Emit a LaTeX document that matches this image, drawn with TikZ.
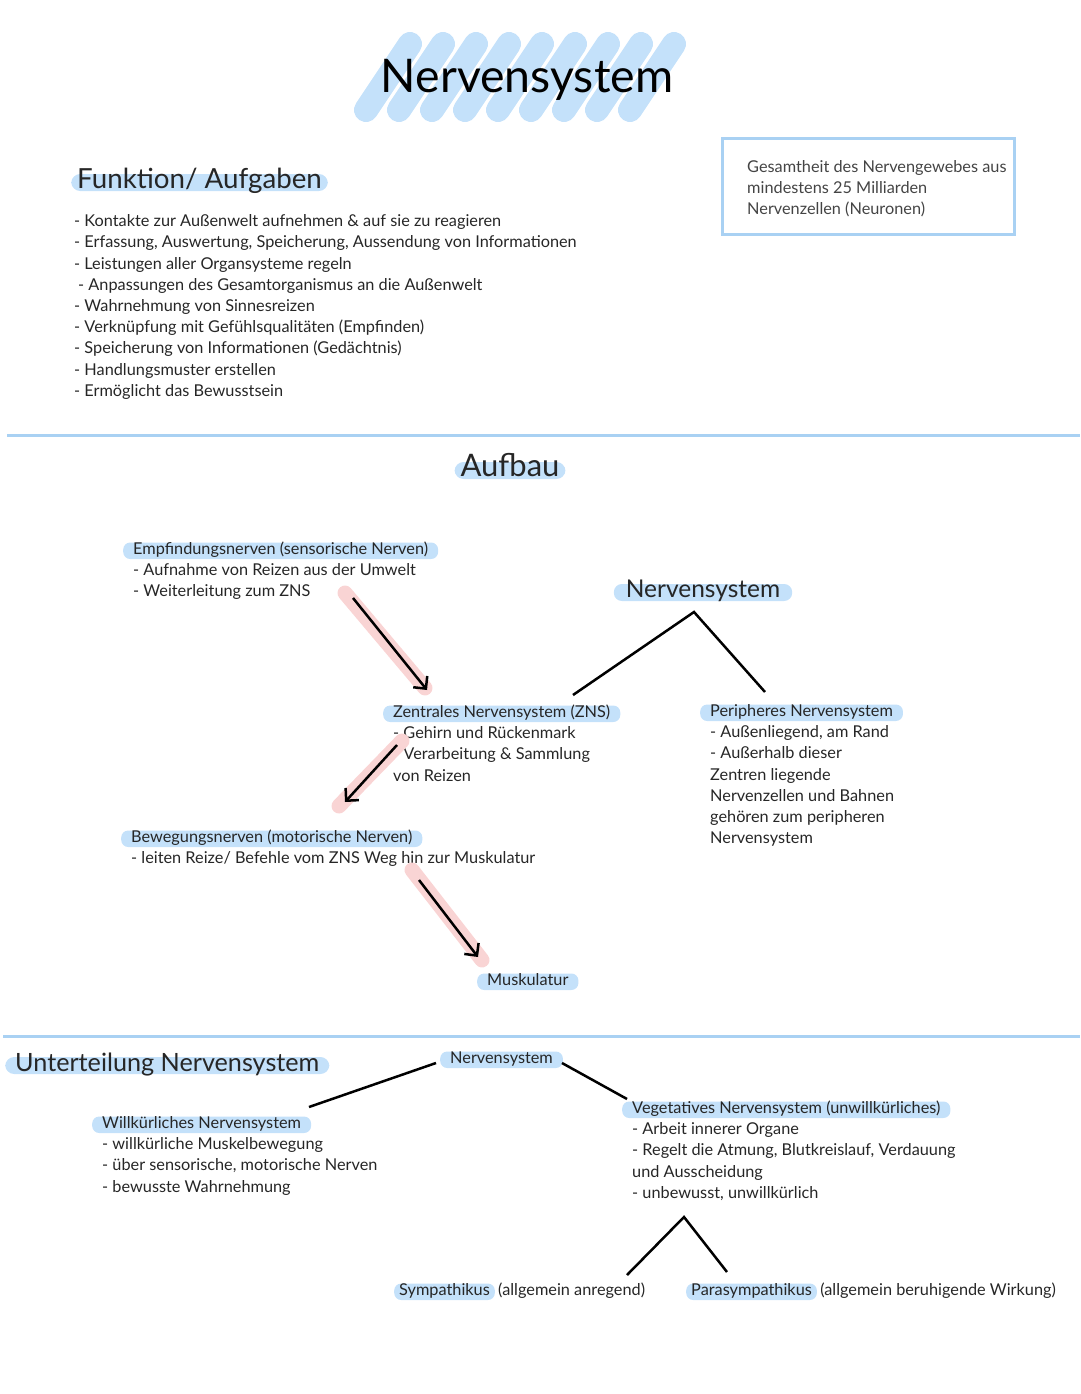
\documentclass[tikz,border=0pt]{standalone}
\usepackage{fontspec}
\setmainfont{Lato}
\usetikzlibrary{arrows.meta,positioning}

\definecolor{hlblue}{HTML}{C4E1FA}
\definecolor{lineblue}{HTML}{A9D1F3}
\definecolor{hlpink}{HTML}{F9D4D4}
\definecolor{ink}{HTML}{262626}
\definecolor{boxink}{HTML}{444444}

\begin{document}
\begin{tikzpicture}[x=1pt,y=-1pt,
    txt/.style={font=\fontsize{16.3}{21.2}\selectfont,text=ink,inner sep=0pt,anchor=north west,align=left},
    hl/.style={font=\fontsize{16.3}{21.2}\selectfont,text=ink,fill=hlblue,rounded corners=7pt,
      inner xsep=10pt,inner ysep=1.5pt,text height=10.5pt,text depth=3pt,anchor=base west},
    bighl/.style={text=ink,fill=hlblue,rounded corners=9pt,inner xsep=6pt,inner ysep=1pt,
      text height=13pt,text depth=2pt,anchor=base west},
    divider/.style={lineblue,line width=3pt},
    branch/.style={black,line width=2.5pt},
    pfeil/.style={black,line width=2.5pt,-{Straight Barb[length=9pt,width=18pt]}},
    marker/.style={hlpink,line width=15pt,line cap=round},
    scribble/.style={hlblue,line width=24pt,line cap=round}]

  \useasboundingbox (0,0) rectangle (1080,1394);

  % Titel
  \foreach \i in {0,...,8}
    \draw[scribble] (366+33*\i,110) -- (410+33*\i,44);
  \node[font=\fontsize{46.4}{52}\selectfont,text=black] (titel) at (527,80) {Nervensystem};

  % Funktion / Aufgaben
  \node[bighl,font=\fontsize{27.7}{32}\selectfont] (funktion) at (71,188) {Funktion/ Aufgaben};
  \node[txt] (liste) at (74,211.7) {\strut- Kontakte zur Außenwelt aufnehmen \& auf sie zu reagieren\\
    - Erfassung, Auswertung, Speicherung, Aussendung von Informationen\\
    - Leistungen aller Organsysteme regeln\\
    \hspace{4pt}- Anpassungen des Gesamtorganismus an die Außenwelt\\
    - Wahrnehmung von Sinnesreizen\\
    - Verknüpfung mit Gefühlsqualitäten (Empfinden)\\
    - Speicherung von Informationen (Gedächtnis)\\
    - Handlungsmuster erstellen\\
    - Ermöglicht das Bewusstsein};

  \node[draw=lineblue,line width=3pt,anchor=north west,minimum width=292pt,minimum height=96pt] (gesamt) at (721,137) {};
  \node[txt,text=boxink] (gesamttxt) at (747,157.5) {\strut Gesamtheit des Nervengewebes aus\\
    mindestens 25 Milliarden\\
    Nervenzellen (Neuronen)};

  \draw[divider] (7,435) -- (1080,435);

  % Aufbau
  \node[bighl,font=\fontsize{31}{36}\selectfont,anchor=base] (aufbau) at (510,476) {Aufbau};

  \node[hl] (sensor) at (123,554.5) {Empfindungsnerven (sensorische Nerven)};
  \node[txt] (sensortxt) at (133,560.7) {\strut- Aufnahme von Reizen aus der Umwelt\\
    - Weiterleitung zum ZNS};

  \node[hl,font=\fontsize{24.5}{28}\selectfont,text height=12pt,text depth=2pt,rounded corners=8pt,inner xsep=12pt,anchor=base] (nsys) at (703,597.5) {Nervensystem};

  \node[hl] (zns) at (383,717.5) {Zentrales Nervensystem (ZNS)};
  \node[txt] (znstxt) at (393,723.7) {\strut- Gehirn und Rückenmark\\
    - Verarbeitung \& Sammlung\\
    von Reizen};

  \node[hl] (pns) at (700,716.5) {Peripheres Nervensystem};
  \node[txt] (pnstxt) at (710,722.7) {\strut- Außenliegend, am Rand\\
    - Außerhalb dieser\\
    Zentren liegende\\
    Nervenzellen und Bahnen\\
    gehören zum peripheren\\
    Nervensystem};

  \node[hl] (motor) at (121,842.5) {Bewegungsnerven (motorische Nerven)};
  \node[txt] (motortxt) at (131,848.7) {\strut- leiten Reize/ Befehle vom ZNS Weg hin zur Muskulatur};

  \node[hl] (muskel) at (477,985.5) {Muskulatur};

  \coordinate (nsysfuss) at (694,612);
  \coordinate (znskopf) at (573,695);
  \coordinate (pnskopf) at (765,692);
  \draw[branch] (znskopf) -- (nsysfuss) -- (pnskopf);

  \coordinate (a1s) at (353,598);  \coordinate (a1e) at (427,690);
  \coordinate (a2s) at (397,745);  \coordinate (a2e) at (345,802);
  \coordinate (a3s) at (419,880);  \coordinate (a3e) at (478,957);
  \draw[marker] (345,593) -- (425,688);
  \draw[marker] (402,741) -- (339,806);
  \draw[marker] (412,870) -- (482,960);
  \draw[pfeil] (a1s) -- (a1e);
  \draw[pfeil] (a2s) -- (a2e);
  \draw[pfeil] (a3s) -- (a3e);

  \draw[divider] (3,1036) -- (1080,1036);

  % Unterteilung
  \node[bighl,font=\fontsize{25.2}{29}\selectfont,inner xsep=10pt] (unterteilung) at (5,1071) {Unterteilung Nervensystem};

  \node[hl] (nsklein) at (440,1063.5) {Nervensystem};

  \node[hl] (willk) at (92,1128.5) {Willkürliches Nervensystem};
  \node[txt] (willktxt) at (102,1134.7) {\strut- willkürliche Muskelbewegung\\
    - über sensorische, motorische Nerven\\
    - bewusste Wahrnehmung};

  \node[hl] (veg) at (622,1113.5) {Vegetatives Nervensystem (unwillkürliches)};
  \node[txt] (vegtxt) at (632,1119.7) {\strut- Arbeit innerer Organe\\
    - Regelt die Atmung, Blutkreislauf, Verdauung\\
    und Ausscheidung\\
    - unbewusst, unwillkürlich};

  \node[hl,inner xsep=5pt] (sympa) at (394,1295.5) {Sympathikus};
  \node[txt,anchor=base west] (sympatxt) at ([xshift=3pt]sympa.base east) {(allgemein anregend)};
  \node[hl,inner xsep=5pt] (para) at (686,1295.5) {Parasympathikus};
  \node[txt,anchor=base west] (paratxt) at ([xshift=3pt]para.base east) {(allgemein beruhigende Wirkung)};

  \coordinate (willkkopf) at (309,1107);
  \coordinate (nsl) at (436,1063);
  \coordinate (nsr) at (562,1063);
  \coordinate (vegkopf) at (627,1099);
  \draw[branch] (nsl) -- (willkkopf);
  \draw[branch] (nsr) -- (vegkopf);

  \coordinate (vegfuss) at (684,1217);
  \coordinate (sympakopf) at (627,1275);
  \coordinate (parakopf) at (727,1272);
  \draw[branch] (sympakopf) -- (vegfuss) -- (parakopf);

\end{tikzpicture}
\end{document}
